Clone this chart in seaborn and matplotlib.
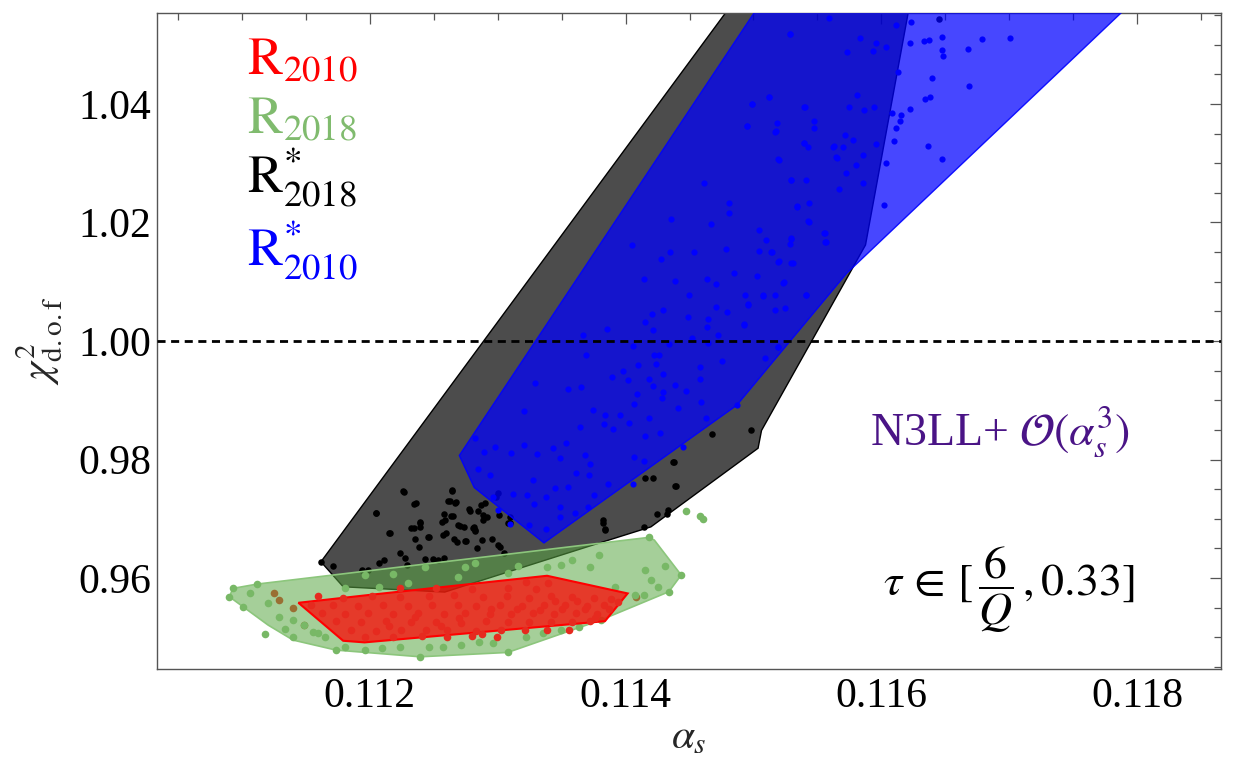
import numpy as np
import pandas as pd
import matplotlib
matplotlib.use("Agg")
import matplotlib.pyplot as plt
from matplotlib.ticker import MultipleLocator, FormatStrFormatter
import seaborn as sns

# ---- hull outlines (alpha_s, chi2/dof) ----
black_hull_x = [0.111618, 0.114940, 0.116249, 0.115876, 0.115063, 0.115036, 0.114198, 0.113719, 0.112586, 0.111792]
black_hull_y = [0.96275, 1.06000, 1.06000, 1.01620, 0.98491, 0.98191, 0.96864, 0.96540, 0.95764, 0.95853]

blue_hull_x = [0.112700, 0.115148, 0.118101, 0.115729, 0.114868, 0.113362, 0.112817]
blue_hull_y = [0.98069, 1.06000, 1.06000, 1.01143, 0.98913, 0.96593, 0.97527]

green_hull_x = [0.110902, 0.110930, 0.111120, 0.114184, 0.114225, 0.114435, 0.114338, 0.113805,
                0.113078, 0.112393, 0.111736, 0.111400, 0.111205]
green_hull_y = [0.95685, 0.95826, 0.95899, 0.96687, 0.96641, 0.96051, 0.95769, 0.95291,
                0.94745, 0.94672, 0.94785, 0.94954, 0.95207]

red_hull_x = [0.111442, 0.112015, 0.113386, 0.114016, 0.113839, 0.111959, 0.111792]
red_hull_y = [0.95583, 0.95720, 0.96039, 0.95741, 0.95273, 0.94915, 0.94942]

# ---- fit points ----
blue_x = [0.115287, 0.115119, 0.114988, 0.115398, 0.114952, 0.115184, 0.115474, 0.115476, 0.115175, 0.115398,
          0.115426, 0.115627, 0.115649, 0.115197, 0.114617, 0.115295, 0.114812, 0.115337, 0.114812, 0.114352,
          0.114667, 0.115426, 0.115044, 0.115292, 0.115552, 0.115560, 0.114054, 0.114344, 0.114533, 0.114785,
          0.115044, 0.115142, 0.115203, 0.115306, 0.114274, 0.114143, 0.114388, 0.114637, 0.114706, 0.114849,
          0.115027, 0.115236, 0.115412, 0.114497, 0.114935, 0.115077, 0.114207, 0.114296, 0.114492, 0.114645,
          0.114706, 0.114793, 0.114960, 0.115167, 0.113858, 0.114154, 0.114213, 0.114637, 0.114723, 0.114924,
          0.113669, 0.114519, 0.114338, 0.114642, 0.114757, 0.114059, 0.113688, 0.114221, 0.114260, 0.114095,
          0.114235, 0.114581, 0.115192, 0.115091, 0.113897, 0.113981, 0.114017, 0.114185, 0.114296, 0.114584,
          0.114218, 0.114386, 0.114469, 0.114296, 0.114093, 0.113295, 0.113551, 0.113649, 0.114068, 0.114282,
          0.114408, 0.114589, 0.113203, 0.113747, 0.113836, 0.113956, 0.114185, 0.114631, 0.113641, 0.113830,
          0.113900, 0.114026, 0.112820, 0.112979, 0.113105, 0.113205, 0.113429, 0.113535, 0.114151, 0.114268,
          0.114450, 0.112896, 0.113306, 0.113487, 0.113682, 0.113724, 0.114068, 0.114143, 0.112848, 0.112943,
          0.113119, 0.113228, 0.113378, 0.113445, 0.113551, 0.113716, 0.113752, 0.113864, 0.114059, 0.113278,
          0.113613, 0.112963, 0.113286, 0.113487, 0.113607, 0.113710, 0.113004, 0.113094, 0.113242, 0.113376,
          0.113490,
          0.116229, 0.116223, 0.116336, 0.116376, 0.116478, 0.116478, 0.116483, 0.116681, 0.116788, 0.117002,
          0.116397, 0.116684, 0.116344, 0.116381, 0.116226, 0.116151, 0.116146, 0.116116, 0.116095, 0.116363,
          0.116472, 0.116036, 0.116017, 0.116082, 0.116130, 0.116111, 0.116036, 0.115959, 0.115937, 0.115830,
          0.115728, 0.115809, 0.115747, 0.115862, 0.115942, 0.115956, 0.115857, 0.115803, 0.115857, 0.115670,
          0.115723, 0.115654, 0.115621, 0.115702, 0.115782, 0.115715, 0.115402, 0.115394, 0.115295, 0.115407,
          0.115341, 0.115434, 0.115434, 0.115557, 0.115568, 0.115295, 0.115287, 0.115193, 0.115172, 0.115121,
          0.114987, 0.114953, 0.115287, 0.115589, 0.115193, 0.115247, 0.115172, 0.115234, 0.115073, 0.114961,
          0.115413, 0.114926, 0.115100, 0.115135, 0.115188, 0.115295, 0.114872]
blue_y = [1.05182, 1.04115, 1.03995, 1.03947, 1.03633, 1.03675, 1.03706, 1.03597, 1.03537, 1.03344,
          1.03272, 1.03284, 1.03103, 1.03061, 1.02669, 1.02723, 1.02331, 1.02271, 1.02162, 1.02054,
          1.01969, 1.02018, 1.01867, 1.01728, 1.01819, 1.01674, 1.01620, 1.01505, 1.01505, 1.01554,
          1.01517, 1.01499, 1.01355, 1.01324, 1.01385, 1.01053, 1.01011, 1.01041, 1.00963, 1.01144,
          1.01095, 1.00993, 1.00782, 1.00782, 1.00782, 1.00764, 1.00450, 1.00523, 1.00408, 1.00372,
          1.00571, 1.00493, 1.00613, 1.00523, 1.00209, 1.00318, 1.00179, 1.00239, 1.00107, 1.00282,
          1.00101, 1.00058, 0.99956, 0.99968, 0.99667, 0.99908, 0.99769, 0.99769, 0.99757, 0.99588,
          0.99606, 0.99558, 0.99896, 0.99715, 0.99396, 0.99486, 0.99335, 0.99365, 0.99438, 0.99353,
          0.99233, 0.99263, 0.99154, 0.99142, 0.99112, 0.99293, 0.99185, 0.99227, 0.98943, 0.99034,
          0.98871, 0.98974, 0.98823, 0.98841, 0.98751, 0.98744, 0.98702, 0.98702, 0.98552, 0.98594,
          0.98509, 0.98624, 0.98371, 0.98220, 0.98112, 0.98250, 0.98190, 0.98280, 0.98389, 0.98449,
          0.98220, 0.98130, 0.98087, 0.98021, 0.98081, 0.97919, 0.98051, 0.97979, 0.97840, 0.97738,
          0.97418, 0.97394, 0.97364, 0.97527, 0.97545, 0.97738, 0.97406, 0.97587, 0.97587, 0.97647,
          0.97768, 0.97364, 0.97256, 0.97195, 0.97093, 0.97195, 0.97147, 0.96912, 0.96894, 0.96834,
          0.97033,
          1.05389, 1.05024, 1.05069, 1.05080, 1.05136, 1.04911, 1.04810, 1.04928, 1.05097, 1.05108,
          1.04433, 1.04304, 1.04078, 1.04123, 1.03915, 1.03814, 1.03718, 1.03600, 1.03370, 1.03296,
          1.03077, 1.02998, 1.02295, 1.03842, 1.04545, 1.05333, 1.04956, 1.05024, 1.04900, 1.05119,
          1.04872, 1.04152, 1.03943, 1.03898, 1.03943, 1.03325, 1.03133, 1.02970, 1.02672, 1.02565,
          1.02841, 1.03094, 1.03280, 1.03280, 1.03392, 1.03476, 1.03943, 1.03336, 1.02717, 1.02717,
          1.02267, 1.02323, 1.02014, 1.01817, 1.01676, 1.01732, 1.01637, 1.03066, 1.03533, 1.04112,
          1.04000, 1.03628, 1.05181, 1.05446, 0.99904, 1.00551, 1.00776, 1.00984, 1.00776, 1.00619,
          1.00776, 1.00270, 1.01704, 1.01507, 1.01339, 1.01322, 0.98920]

black_x = [0.111618, 0.111713, 0.111940, 0.112052, 0.112155, 0.112267, 0.112239, 0.112275, 0.112345, 0.112351,
           0.112365, 0.112393, 0.112393, 0.112463, 0.112384, 0.112429, 0.112491, 0.112533, 0.112580, 0.112625,
           0.112644, 0.112678, 0.112569, 0.112588, 0.112597, 0.112653, 0.112658, 0.112681, 0.112709, 0.112737,
           0.112756, 0.112784, 0.112804, 0.112821, 0.112840, 0.112849, 0.112877, 0.112882, 0.112899, 0.112919,
           0.112952, 0.112983, 0.113000, 0.113022, 0.113050, 0.113095, 0.113100, 0.113008, 0.112071, 0.112113,
           0.112289, 0.111987, 0.113825, 0.113839, 0.114155, 0.114247, 0.114328, 0.114393, 0.114379, 0.114141,
           0.112260, 0.112349, 0.112050, 0.112642, 0.112608, 0.112667, 0.112148, 0.112321, 0.112391, 0.112455,
           0.112580, 0.112636, 0.112566, 0.112692, 0.112818, 0.112887, 0.112868, 0.112776, 0.112826, 0.112748,
           0.113004, 0.113083, 0.113825, 0.113839, 0.114218, 0.114386, 0.114374, 0.114678, 0.114980, 0.114324,
           0.116451]
black_y = [0.96276, 0.96202, 0.96135, 0.97091, 0.96765, 0.97457, 0.96427, 0.96332, 0.96838, 0.96653,
           0.97260, 0.96945, 0.96866, 0.96698, 0.96529, 0.96315, 0.96315, 0.96304, 0.96332, 0.97300,
           0.97474, 0.97288, 0.96726, 0.96979, 0.96754, 0.97046, 0.96653, 0.96613, 0.96878, 0.96866,
           0.96630, 0.97136, 0.96838, 0.96799, 0.96512, 0.97136, 0.96641, 0.96979, 0.97260, 0.97035,
           0.96653, 0.97373, 0.97429, 0.96529, 0.96417, 0.96923, 0.97035, 0.97063, 0.96248, 0.96304,
           0.96219, 0.96135, 0.96923, 0.96810, 0.97682, 0.97075, 0.97148, 0.97553, 0.97963, 0.96867,
           0.97467, 0.97250, 0.97093, 0.97479, 0.97298, 0.97274, 0.96761, 0.96852, 0.96936, 0.96701,
           0.97075, 0.97045, 0.96942, 0.96894, 0.96864, 0.97057, 0.97238, 0.97165, 0.96804, 0.96623,
           0.96550, 0.96924, 0.96984, 0.96822, 0.97696, 0.97557, 0.97961, 0.98431, 0.98491, 0.97075,
           1.05429]

green_x = [0.110902, 0.110930, 0.111120, 0.111204, 0.111182, 0.111338, 0.111400, 0.111484, 0.111554, 0.111596,
           0.111652, 0.111735, 0.111805, 0.111959, 0.112099, 0.112239, 0.112393, 0.112463, 0.112575, 0.112714,
           0.112854, 0.112966, 0.113078, 0.113218, 0.113358, 0.113498, 0.113637, 0.113805, 0.114071, 0.114141,
           0.114155, 0.114309, 0.114435, 0.114337, 0.114183, 0.113791, 0.113581, 0.113498, 0.113386, 0.113162,
           0.112826, 0.112742, 0.112435, 0.112183, 0.111959, 0.111805, 0.114471, 0.114580, 0.114602, 0.113721,
           0.113917, 0.114197, 0.114253, 0.112071, 0.112295, 0.112686, 0.113078, 0.111400, 0.111288, 0.111064,
           0.111008]
green_y = [0.95685, 0.95826, 0.95899, 0.95584, 0.95055, 0.95134, 0.95010, 0.95207, 0.95094, 0.95066,
           0.95010, 0.94785, 0.94841, 0.94785, 0.94813, 0.94841, 0.94672, 0.94841, 0.94830, 0.94869,
           0.94925, 0.94909, 0.94745, 0.95010, 0.95066, 0.95122, 0.95179, 0.95291, 0.95713, 0.95713,
           0.96135, 0.96202, 0.96051, 0.95769, 0.96686, 0.96388, 0.96304, 0.96219, 0.96191, 0.96202,
           0.96248, 0.96191, 0.96180, 0.96068, 0.96051, 0.95826, 0.97131, 0.97052, 0.96990, 0.96191,
           0.95854, 0.95966, 0.95854, 0.95854, 0.95910, 0.96023, 0.96079, 0.95291, 0.95347, 0.95741,
           0.95516]

# red fits that fall outside the red hull (seen through the green band)
red_out_x = [0.111254, 0.111294, 0.111400, 0.111489, 0.114085]
red_out_y = [0.95752, 0.95629, 0.95488, 0.95207, 0.95685]

red_x = [0.111596, 0.111791, 0.112018, 0.112236, 0.112466, 0.112655, 0.112885, 0.113075, 0.113248, 0.113417,
         0.113585, 0.113751, 0.113886, 0.111543, 0.111710, 0.111905, 0.112101, 0.112297, 0.112489, 0.112690,
         0.112829, 0.113020, 0.113190, 0.113360, 0.113526, 0.113695, 0.113835, 0.111626, 0.111807, 0.111988,
         0.112181, 0.112380, 0.112578, 0.112744, 0.112940, 0.113108, 0.113276, 0.113444, 0.113610, 0.113780,
         0.111738, 0.111933, 0.112130, 0.112326, 0.112520, 0.112714, 0.112912, 0.113080, 0.113244, 0.113415,
         0.113583, 0.113720, 0.111850, 0.112045, 0.112241, 0.112437, 0.112605, 0.112827, 0.113024, 0.113216,
         0.113388, 0.113555, 0.111960, 0.112185, 0.112409, 0.112601, 0.112800, 0.112996, 0.112239, 0.112521,
         0.112797, 0.113079, 0.113300, 0.113218, 0.113390, 0.113450, 0.113620, 0.112950, 0.113150, 0.113330,
         0.113500, 0.113680, 0.113870, 0.112700, 0.112560, 0.112350, 0.112150, 0.113760, 0.113940, 0.112880]
red_y = [0.95690, 0.95672, 0.95701, 0.95680, 0.95693, 0.95716, 0.95688, 0.95702, 0.95671, 0.95694,
         0.95680, 0.95663, 0.95650, 0.95540, 0.95551, 0.95536, 0.95548, 0.95530, 0.95552, 0.95540,
         0.95526, 0.95549, 0.95532, 0.95545, 0.95538, 0.95522, 0.95548, 0.95410, 0.95398, 0.95412,
         0.95395, 0.95407, 0.95390, 0.95415, 0.95401, 0.95396, 0.95410, 0.95388, 0.95404, 0.95398,
         0.95268, 0.95255, 0.95270, 0.95258, 0.95263, 0.95249, 0.95272, 0.95260, 0.95251, 0.95266,
         0.95255, 0.95268, 0.95127, 0.95115, 0.95130, 0.95118, 0.95126, 0.95112, 0.95128, 0.95119,
         0.95131, 0.95120, 0.95012, 0.95005, 0.95020, 0.95008, 0.95015, 0.95002, 0.95825, 0.95830,
         0.95818, 0.95836, 0.95822, 0.95935, 0.95925, 0.95615, 0.95610, 0.95470, 0.95480, 0.95462,
         0.95470, 0.95480, 0.95470, 0.95330, 0.95195, 0.95340, 0.95190, 0.95330, 0.95600, 0.95060]

# ---- styling ----
sns.set_style("white")
plt.rcParams["font.family"] = ["Liberation Serif", "DejaVu Serif"]
plt.rcParams["mathtext.fontset"] = "stix"

fig = plt.figure(figsize=(12.36, 7.67), dpi=100)
ax = fig.add_axes([0.1270, 0.1277, 0.8609, 0.8554])

# black region
ax.fill(black_hull_x, black_hull_y, facecolor=(0, 0, 0, 0.70), edgecolor="black", linewidth=1.0, zorder=1)
sns.scatterplot(x=black_x, y=black_y, color="black", s=22, linewidth=0, ax=ax, zorder=2)

# blue region
ax.fill(blue_hull_x, blue_hull_y, facecolor=(0, 0, 1, 0.72), edgecolor=(0, 0, 1, 0.9), linewidth=1.0, zorder=3)
sns.scatterplot(x=blue_x, y=blue_y, color="#0000ff", s=20, linewidth=0, ax=ax, zorder=4)

# stray red fits under the green band
sns.scatterplot(x=red_out_x, y=red_out_y, color="#e62a1f", s=30, linewidth=0, ax=ax, zorder=4.5)

# green region
ax.fill(green_hull_x, green_hull_y, facecolor=(0.36, 0.66, 0.27, 0.55), edgecolor="#8cc67c", linewidth=1.2, zorder=5)
sns.scatterplot(x=green_x, y=green_y, color="#78b866", s=30, linewidth=0, ax=ax, zorder=6)

# red region
ax.fill(red_hull_x, red_hull_y, facecolor=(1, 0, 0, 0.72), edgecolor="#ff0000", linewidth=1.5, zorder=7)
sns.scatterplot(x=red_x, y=red_y, color="#e62a1f", s=30, linewidth=0, ax=ax, zorder=8)

ax.axhline(1.0, color="black", linewidth=2.0, dashes=(2.9, 2.0), zorder=9)

ax.set_xlim(0.110336, 0.118656)
ax.set_ylim(0.94465, 1.05535)
ax.xaxis.set_major_locator(MultipleLocator(0.002))
ax.xaxis.set_minor_locator(MultipleLocator(0.0005))
ax.yaxis.set_major_locator(MultipleLocator(0.02))
ax.yaxis.set_minor_locator(MultipleLocator(0.005))
ax.xaxis.set_major_formatter(FormatStrFormatter("%.3f"))
ax.yaxis.set_major_formatter(FormatStrFormatter("%.2f"))
ax.tick_params(which="both", direction="in", top=True, right=True, colors="#555555",
               labelcolor="black", labelsize=30, width=0.9)
ax.tick_params(which="major", length=8)
ax.tick_params(which="minor", length=5)
ax.tick_params(axis="x", which="major", pad=6)
ax.tick_params(axis="y", which="major", pad=4)
for sp in ax.spines.values():
    sp.set_color("#555555")
    sp.set_linewidth(1.0)

ax.set_xlabel(r"$\alpha_s$", fontsize=30, labelpad=2)
ax.set_ylabel(r"$\chi^2_{\mathrm{d.o.f}}$", fontsize=30, labelpad=10)

# labels for the four fits
lab = dict(transform=ax.transAxes, fontsize=38, va="baseline", ha="left", zorder=10)
ax.text(0.0846, 0.907, r"$\mathrm{R}_{2010}$", color="#ff0000", **lab)
ax.text(0.0846, 0.817, r"$\mathrm{R}_{2018}$", color="#80bb6e", **lab)
ax.text(0.0846, 0.727, r"$\mathrm{R}^{*}_{2018}$", color="black", **lab)
ax.text(0.0846, 0.616, r"$\mathrm{R}^{*}_{2010}$", color="#0000ff", **lab)

ax.text(0.670, 0.3415, r"N3LL+ $\mathcal{O}(\alpha_s^3)$", color="#4a1486", fontsize=33,
        transform=ax.transAxes, va="baseline", ha="left", zorder=10)
ax.text(0.682, 0.110, r"$\tau\,\in\,[\,\dfrac{6}{Q}\,, 0.33]$", color="black", fontsize=33,
        transform=ax.transAxes, va="baseline", ha="left", zorder=10)

fig.savefig("out.png", dpi=100)
